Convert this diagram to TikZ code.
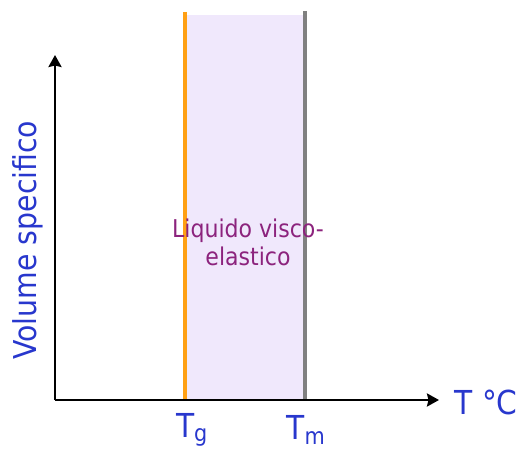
\documentclass[tikz,border=0pt]{standalone}
\usepackage{fontspec}
\setmainfont{DejaVu Sans Condensed}
\usetikzlibrary{arrows.meta}
\definecolor{axisblue}{RGB}{40,55,205}
\definecolor{labelpurple}{RGB}{140,35,125}
\definecolor{bandfill}{RGB}{240,232,252}
\definecolor{tgorange}{RGB}{255,160,20}
\definecolor{tmgray}{RGB}{128,128,128}

\begin{document}
\begin{tikzpicture}[x=1pt,y=-1pt,>={Stealth[length=12pt,width=13pt,inset=1.5pt]}]
  \useasboundingbox (0,0) rectangle (523,452);
  % viscoelastic band between Tg and Tm
  \fill[bandfill] (186,15) rectangle (304,400);
  \coordinate (tgtop) at (185,12); \coordinate (tgbot) at (185,400);
  \coordinate (tmtop) at (305,11); \coordinate (tmbot) at (305,400);
  \draw[line width=4pt,tgorange] (tgtop)--(tgbot);
  \draw[line width=4pt,tmgray] (tmtop)--(tmbot);
  % axes
  \coordinate (origin) at (55,400);
  \coordinate (ytip) at (55,55);
  \coordinate (xtip) at (439,400);
  \draw[line width=2.5pt,->] (origin)--(ytip);
  \draw[line width=2.5pt,->] (origin)--(xtip);
  % labels
  \node[axisblue,font=\fontsize{31.5}{34}\selectfont,rotate=90] (ylab) at (28,240) {Volume specifico};
  \node[axisblue,font=\fontsize{33}{36}\selectfont,anchor=west] (xlab) at (451,402) {T °C};
  \node[axisblue,font=\fontsize{33}{36}\selectfont] (tglab) at (192,430) {T\textsubscript{g}};
  \node[axisblue,font=\fontsize{33}{36}\selectfont] (tmlab) at (306,430) {T\textsubscript{m}};
  \node[labelpurple,font=\fontsize{24.5}{28}\selectfont,align=center] (zone) at (248,242) {Liquido visco-\\elastico};
\end{tikzpicture}
\end{document}
